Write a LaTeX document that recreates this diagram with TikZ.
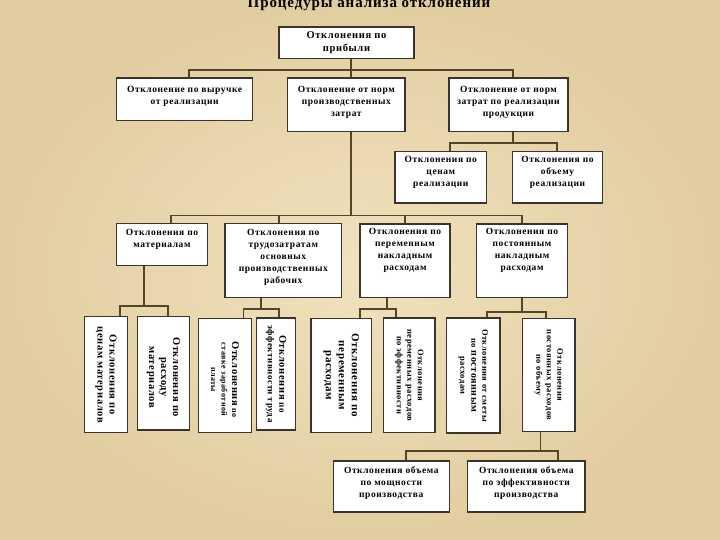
\documentclass[tikz,border=0pt]{standalone}
\usepackage{fontspec}
\setmainfont{Liberation Serif}[LetterSpace=6]
\definecolor{bgin}{RGB}{240,226,190}
\definecolor{bgout}{RGB}{226,205,160}
\definecolor{boxline}{RGB}{58,52,42}
\definecolor{linkc}{RGB}{84,68,40}
\begin{document}
\begin{tikzpicture}[x=1pt,y=-1pt,
  box/.style={draw=boxline, fill=white, line width=1.3pt, inner sep=0pt},
  txt/.style={align=center, inner sep=0pt, font=\bfseries\fontsize{9.5}{12}\selectfont},
  vtxt/.style={align=center, inner sep=0pt, rotate=-90, font=\bfseries\fontsize{10.5}{12}\selectfont},
  link/.style={draw=linkc, line width=1.6pt}]
\useasboundingbox (0,0) rectangle (720,540);
\shade[inner color=bgin, outer color=bgout] (0,0) rectangle (720,540);

\node[font=\bfseries\fontsize{15}{18}\selectfont, anchor=base, inner sep=0pt] (title) at (369,8) {Процедуры анализа отклонений};

% level 1
\node[box, minimum width=135pt, minimum height=31.7pt] (top) at (346.5,42.8) {};
\node[txt, font=\bfseries\fontsize{10.5}{13}\selectfont] (top-t) at (top.center) {Отклонения по\\прибыли};

% level 2
\node[box, minimum width=136pt, minimum height=42.7pt] (A) at (184.7,99.3) {};
\node[txt, anchor=north] (A-t) at ([yshift=-9pt]A.north) {Отклонение по выручке\\от реализации};
\node[box, minimum width=117.3pt, minimum height=53.7pt] (B) at (346.3,104.8) {};
\node[txt, anchor=north] (B-t) at ([yshift=-9pt]B.north) {Отклонение от норм\\производственных\\затрат};
\node[box, minimum width=119pt, minimum height=53.7pt] (C) at (508.5,104.8) {};
\node[txt, anchor=north] (C-t) at ([yshift=-9pt]C.north) {Отклонение от норм\\затрат по реализации\\продукции};

% level 3
\node[box, minimum width=91.7pt, minimum height=51.3pt] (D) at (440.8,177.3) {};
\node[txt, anchor=north] (D-t) at ([yshift=-5pt]D.north) {Отклонения по\\ценам\\реализации};
\node[box, minimum width=90.4pt, minimum height=51.3pt] (E) at (557.5,177.3) {};
\node[txt, anchor=north] (E-t) at ([yshift=-5pt]E.north) {Отклонения по\\объему\\реализации};

% level 4
\node[box, minimum width=90.6pt, minimum height=42.4pt] (F) at (162,244.5) {};
\node[txt, anchor=north] (F-t) at ([yshift=-6pt]F.north) {Отклонения по\\материалам};
\node[box, minimum width=116.7pt, minimum height=74pt] (G) at (283.3,260.3) {};
\node[txt, anchor=north] (G-t) at ([yshift=-6pt]G.north) {Отклонения по\\трудозатратам\\основных\\производственных\\рабочих};
\node[box, minimum width=90pt, minimum height=73.3pt] (H) at (405,260.7) {};
\node[txt, anchor=north] (H-t) at ([yshift=-5pt]H.north) {Отклонения по\\переменным\\накладным\\расходам};
\node[box, minimum width=90.6pt, minimum height=73.3pt] (I) at (522,260.7) {};
\node[txt, anchor=north] (I-t) at ([yshift=-5pt]I.north) {Отклонения по\\постоянным\\накладным\\расходам};

% level 5 (vertical text)
\node[box, minimum width=43.4pt, minimum height=116pt] (J) at (106,374.7) {};
\node[vtxt] (J-t) at (J.center) {Отклонения по\\ценам материалов};
\node[box, minimum width=51.6pt, minimum height=113.3pt] (K) at (163.5,373.3) {};
\node[vtxt] (K-t) at ([yshift=-4pt]K.center) {Отклонения по\\расходу\\материалов};
\node[box, minimum width=53.4pt, minimum height=114.4pt] (L) at (225,375.5) {};
\node[vtxt, font=\bfseries\fontsize{8}{10.5}\selectfont] (L-t) at ([yshift=-4pt]L.center) {{\fontsize{10.5}{12}\selectfont Отклонения} по\\ставке заработной\\платы};
\node[box, minimum width=39pt, minimum height=112pt] (M) at (276.2,374) {};
\node[vtxt, font=\bfseries\fontsize{9}{11.5}\selectfont] (M-t) at (M.center) {{\fontsize{10.5}{12}\selectfont Отклонения} по\\эффективности труда};
\node[box, minimum width=60.7pt, minimum height=114.4pt] (N) at (341.3,375.5) {};
\node[vtxt, font=\bfseries\fontsize{11}{13}\selectfont] (N-t) at (N.center) {Отклонения по\\переменным\\расходам};
\node[box, minimum width=51.7pt, minimum height=114.7pt] (O) at (409.2,375.3) {};
\node[vtxt, font=\bfseries\fontsize{8.5}{10.5}\selectfont] (O-t) at (O.center) {Отклонения\\переменных расходов\\по эффективности};
\node[box, minimum width=53.3pt, minimum height=115pt] (P) at (473.3,375.5) {};
\node[vtxt, font=\bfseries\fontsize{8.5}{11}\selectfont] (P-t) at (P.center) {Отклонения от сметы\\по {\fontsize{10}{11}\selectfont постоянным}\\расходам};
\node[box, minimum width=52.3pt, minimum height=113.4pt] (Q) at (548.8,375) {};
\node[vtxt, font=\bfseries\fontsize{8.5}{10.5}\selectfont] (Q-t) at (Q.center) {Отклонения\\постоянных расходов\\по объему};

% level 6
\node[box, minimum width=116pt, minimum height=51pt] (R) at (391.3,486.5) {};
\node[txt, anchor=north] (R-t) at ([yshift=-6pt]R.north) {Отклонения объема\\по мощности\\производства};
\node[box, minimum width=117.3pt, minimum height=51pt] (S) at (526.3,486.5) {};
\node[txt, anchor=north] (S-t) at ([yshift=-6pt]S.north) {Отклонения объема\\по эффективности\\производства};

% connectors
\coordinate (t1) at (351,70);
\draw[link] (top.south -| t1) -- (t1);
\draw[link] ([xshift=4.3pt]A.north) |- (t1) -| ([xshift=4.2pt]C.north);
\draw[link] (B.north -| t1) -- (t1);

\coordinate (c1) at (512.7,143);
\draw[link] ([xshift=4.2pt]C.south) -- (c1);
\draw[link] ([xshift=9.2pt]D.north) |- (c1) -| ([xshift=-0.8pt]E.north);

\coordinate (b2) at (351,215.7);
\draw[link] (B.south -| b2) -- (b2);
\draw[link] ([xshift=9pt]F.north) |- (b2) -| ([xshift=-0.3pt]I.north);
\draw[link] ([xshift=-4.3pt]G.north) |- (b2);
\draw[link] (H.north) |- (b2);

\coordinate (f1) at (144,305.7);
\draw[link] ([xshift=-18pt]F.south) -- (f1);
\draw[link] ([xshift=14pt]J.north) |- (f1) -| ([xshift=4.2pt]K.north);

\coordinate (g1) at (260.7,309);
\draw[link] ([xshift=-22.6pt]G.south) -- (g1);
\draw[link] ([xshift=18.3pt]L.north) |- (g1) -| ([xshift=2.8pt]M.north);

\coordinate (h1) at (386.7,309);
\draw[link] ([xshift=-18.3pt]H.south) -- (h1);
\draw[link] ([xshift=18.7pt]N.north) |- (h1) -| ([xshift=-13.5pt]O.north);

\coordinate (i1) at (521.7,311.7);
\draw[link] ([xshift=-0.3pt]I.south) -- (i1);
\draw[link] ([xshift=13.4pt]P.north) |- (i1) -| ([xshift=-3.1pt]Q.north);

\coordinate (q1) at (540.5,450.7);
\draw[link] ([xshift=-8.3pt]Q.south) -- (q1);
\draw[link] ([xshift=14.4pt]R.north) |- (q1) -| ([xshift=31.4pt]S.north);
\end{tikzpicture}
\end{document}
